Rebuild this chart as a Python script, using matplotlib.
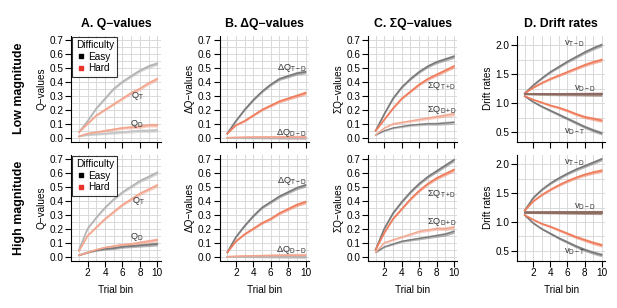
import numpy as np
import matplotlib
matplotlib.use("Agg")
import matplotlib.pyplot as plt
from matplotlib.lines import Line2D

plt.rcParams['font.family'] = ['Liberation Sans', 'DejaVu Sans']
plt.rcParams['mathtext.fontset'] = 'custom'
plt.rcParams['mathtext.rm'] = 'Liberation Sans'
plt.rcParams['mathtext.it'] = 'Liberation Sans:italic'

# trial bins
x = list(range(1, 11))

# ---- Low magnitude ----
qT_easy_low = [0.04, 0.12, 0.21, 0.28, 0.35, 0.40, 0.44, 0.48, 0.51, 0.53]
qT_hard_low = [0.04, 0.10, 0.16, 0.20, 0.24, 0.28, 0.32, 0.35, 0.39, 0.42]
qD_easy_low = [0.01, 0.02, 0.025, 0.03, 0.035, 0.04, 0.045, 0.05, 0.05, 0.055]
qD_hard_low = [0.01, 0.03, 0.04, 0.05, 0.06, 0.07, 0.075, 0.08, 0.09, 0.09]

dTD_easy_low = [0.03, 0.12, 0.20, 0.27, 0.33, 0.38, 0.42, 0.44, 0.46, 0.47]
dTD_hard_low = [0.03, 0.09, 0.12, 0.16, 0.20, 0.23, 0.26, 0.28, 0.30, 0.32]
dDD_easy_low = [0.0, 0.0, 0.0, 0.0, 0.0, 0.0, 0.0, 0.0, 0.0, 0.0]
dDD_hard_low = [0.0, 0.003, 0.004, 0.005, 0.005, 0.005, 0.005, 0.005, 0.005, 0.005]

sTD_easy_low = [0.05, 0.17, 0.28, 0.36, 0.42, 0.47, 0.51, 0.54, 0.56, 0.58]
sTD_hard_low = [0.05, 0.13, 0.21, 0.28, 0.33, 0.38, 0.42, 0.45, 0.48, 0.51]
sDD_easy_low = [0.02, 0.05, 0.07, 0.08, 0.09, 0.095, 0.10, 0.10, 0.105, 0.11]
sDD_hard_low = [0.02, 0.07, 0.10, 0.11, 0.12, 0.13, 0.14, 0.15, 0.16, 0.17]

vTD_easy_low = [1.17, 1.31, 1.43, 1.54, 1.63, 1.72, 1.80, 1.88, 1.95, 2.01]
vTD_hard_low = [1.17, 1.27, 1.35, 1.42, 1.48, 1.54, 1.60, 1.66, 1.71, 1.75]
vDD_easy_low = [1.15, 1.15, 1.15, 1.15, 1.15, 1.15, 1.15, 1.15, 1.15, 1.15]
vDD_hard_low = [1.16, 1.16, 1.16, 1.16, 1.16, 1.16, 1.16, 1.16, 1.16, 1.16]
vDT_easy_low = [1.12, 1.02, 0.94, 0.87, 0.80, 0.73, 0.66, 0.59, 0.53, 0.48]
vDT_hard_low = [1.12, 1.06, 1.01, 0.96, 0.92, 0.87, 0.81, 0.76, 0.73, 0.70]

# ---- High magnitude ----
qT_easy_high = [0.05, 0.20, 0.28, 0.35, 0.41, 0.46, 0.50, 0.54, 0.57, 0.60]
qT_hard_high = [0.04, 0.15, 0.21, 0.27, 0.32, 0.37, 0.41, 0.45, 0.48, 0.51]
qD_easy_high = [0.01, 0.03, 0.045, 0.055, 0.06, 0.07, 0.075, 0.08, 0.085, 0.09]
qD_hard_high = [0.01, 0.03, 0.05, 0.065, 0.075, 0.085, 0.09, 0.10, 0.11, 0.12]

dTD_easy_high = [0.03, 0.14, 0.22, 0.29, 0.35, 0.39, 0.43, 0.46, 0.49, 0.51]
dTD_hard_high = [0.03, 0.11, 0.16, 0.20, 0.24, 0.27, 0.31, 0.34, 0.37, 0.39]
dDD_easy_high = [0.0, 0.0, 0.0, 0.0, 0.0, 0.0, 0.0, 0.0, 0.0, 0.0]
dDD_hard_high = [0.0, 0.003, 0.005, 0.006, 0.007, 0.008, 0.009, 0.01, 0.01, 0.01]

sTD_easy_high = [0.05, 0.20, 0.31, 0.39, 0.46, 0.52, 0.57, 0.61, 0.65, 0.69]
sTD_hard_high = [0.05, 0.17, 0.27, 0.34, 0.41, 0.47, 0.52, 0.56, 0.59, 0.62]
sDD_easy_high = [0.03, 0.07, 0.09, 0.11, 0.12, 0.13, 0.14, 0.15, 0.16, 0.18]
sDD_hard_high = [0.03, 0.10, 0.12, 0.14, 0.16, 0.18, 0.19, 0.20, 0.20, 0.21]

vTD_easy_high = [1.20, 1.42, 1.56, 1.67, 1.76, 1.84, 1.91, 1.97, 2.03, 2.09]
vTD_hard_high = [1.20, 1.36, 1.47, 1.56, 1.64, 1.71, 1.77, 1.82, 1.86, 1.89]
vDD_easy_high = [1.16, 1.16, 1.16, 1.16, 1.16, 1.16, 1.16, 1.16, 1.16, 1.16]
vDD_hard_high = [1.17, 1.17, 1.17, 1.17, 1.17, 1.17, 1.17, 1.17, 1.17, 1.17]
vDT_easy_high = [1.12, 0.98, 0.88, 0.80, 0.72, 0.65, 0.58, 0.52, 0.47, 0.43]
vDT_hard_high = [1.12, 1.04, 0.97, 0.92, 0.86, 0.80, 0.74, 0.69, 0.64, 0.60]

# half-widths of the uncertainty bands
band_q = [0.003, 0.005, 0.007, 0.008, 0.009, 0.010, 0.011, 0.012, 0.013, 0.014]
band_v = [0.008, 0.013, 0.017, 0.020, 0.023, 0.025, 0.027, 0.029, 0.031, 0.033]

titles = ['A. Q\u2212values', 'B. \u0394Q\u2212values', 'C. \u03a3Q\u2212values', 'D. Drift rates']
ylabels = ['Q\u2212values', '\u0394Q\u2212values', '\u03a3Q\u2212values', 'Drift rates']
rows = ['Low magnitude', 'High magnitude']

GRAY = '#7a7a7a'
LGRAY = '#b4b4b4'
SALMON = '#f07c5c'
LSALMON = '#f3a58e'
BROWN = '#8c6a60'
FS = 7.2


def band(ax, y, hw, color, alpha=0.55, lw=1.2):
    y = np.array(y)
    hw = np.array(hw)
    ax.fill_between(x, y - hw, y + hw, color=color, alpha=alpha, lw=0, zorder=3)
    ax.plot(x, y, color=color, lw=lw, zorder=4)


def label(ax, xx, yy, s):
    ax.text(xx, yy, s, fontsize=6.7, color='#333333', ha='center', va='center', zorder=6)


fig = plt.figure(figsize=(6.17, 3.08), dpi=100)
lefts = [0.1156, 0.3559, 0.5964, 0.8383]
widths = [0.1447, 0.1447, 0.1447, 0.1421]
bottoms = [0.540, 0.154]
height = 0.344

for r in range(2):
    lo = r == 0
    for c in range(4):
        ax = fig.add_axes([lefts[c], bottoms[r], widths[c], height])
        ax.set_xlim(0.12, 10.38)
        ax.set_xticks([2, 4, 6, 8, 10])
        ax.set_xticks(x, minor=True)
        if c < 3:
            ax.set_ylim(-0.028, 0.728)
            ax.set_yticks(np.arange(0, 0.71, 0.1))
            ax.set_yticks(np.arange(0, 0.71, 0.05), minor=True)
            ax.yaxis.set_major_formatter(matplotlib.ticker.FormatStrFormatter('%.1f'))
        else:
            ax.set_ylim(0.332, 2.168)
            ax.set_yticks([0.5, 1.0, 1.5, 2.0])
            ax.set_yticks(np.arange(0.5, 2.01, 0.25), minor=True)
        ax.grid(True, which='both', color='#d9d9d9', lw=0.7, zorder=0)
        ax.tick_params(which='minor', length=0)
        ax.tick_params(which='major', length=4, width=0.8, labelsize=FS, pad=1.5, color='black')
        for s in ['top', 'right']:
            ax.spines[s].set_visible(False)
        for s in ['left', 'bottom']:
            ax.spines[s].set_linewidth(0.8)
        if lo:
            ax.tick_params(labelbottom=False)
            ax.set_title(titles[c], fontsize=8.8, fontweight='bold', pad=6)
        else:
            ax.set_xlabel('Trial bin', fontsize=FS, labelpad=5)
        ax.set_ylabel(ylabels[c], fontsize=FS, labelpad=2)

        if c == 0:
            if lo:
                band(ax, qT_easy_low, band_q, LGRAY)
                band(ax, qT_hard_low, band_q, LSALMON)
                band(ax, qD_easy_low, band_q, '#c4c4c4')
                band(ax, qD_hard_low, band_q, LSALMON)
                label(ax, 7.7, 0.30, r'$\mathrm{Q_T}$')
                label(ax, 7.7, 0.10, r'$\mathrm{Q_D}$')
            else:
                band(ax, qT_easy_high, band_q, LGRAY)
                band(ax, qT_hard_high, band_q, LSALMON)
                band(ax, qD_easy_high, band_q, GRAY)
                band(ax, qD_hard_high, band_q, LSALMON)
                label(ax, 7.8, 0.40, r'$\mathrm{Q_T}$')
                label(ax, 7.7, 0.14, r'$\mathrm{Q_D}$')
            handles = [Line2D([], [], marker='s', ls='', color='black', markersize=3.2),
                       Line2D([], [], marker='s', ls='', color='#e8332a', markersize=3.2)]
            leg = ax.legend(handles, ['Easy', 'Hard'], title='Difficulty', loc='upper left',
                            fontsize=FS, title_fontsize=FS, frameon=True, fancybox=False,
                            borderpad=0.35, handletextpad=0.2, handlelength=1.0,
                            labelspacing=0.15, borderaxespad=0.1)
            leg._legend_box.align = 'left'
            leg.get_frame().set_edgecolor('black')
            leg.get_frame().set_linewidth(0.8)
            leg.set_zorder(10)
        elif c == 1:
            if lo:
                band(ax, dTD_easy_low, band_q, GRAY)
                band(ax, dTD_hard_low, band_q, SALMON)
                band(ax, dDD_easy_low, band_q, LGRAY)
                band(ax, dDD_hard_low, band_q, LSALMON)
                yt, yd = 0.50, 0.035
            else:
                band(ax, dTD_easy_high, band_q, GRAY)
                band(ax, dTD_hard_high, band_q, SALMON)
                band(ax, dDD_easy_high, band_q, LGRAY)
                band(ax, dDD_hard_high, band_q, LSALMON)
                yt, yd = 0.54, 0.05
            label(ax, 8.4, yt, r'$\Delta\mathrm{Q_{T-D}}$')
            label(ax, 8.4, yd, r'$\Delta\mathrm{Q_{D-D}}$')
        elif c == 2:
            if lo:
                band(ax, sTD_easy_low, band_q, GRAY)
                band(ax, sTD_hard_low, band_q, SALMON)
                band(ax, sDD_easy_low, band_q, GRAY, 0.4, 0.9)
                band(ax, sDD_hard_low, band_q, LSALMON, 0.55, 0.9)
                yt, yd = 0.37, 0.20
            else:
                band(ax, sTD_easy_high, band_q, GRAY)
                band(ax, sTD_hard_high, band_q, SALMON)
                band(ax, sDD_easy_high, band_q, GRAY, 0.55, 0.9)
                band(ax, sDD_hard_high, band_q, LSALMON, 0.55, 0.9)
                yt, yd = 0.45, 0.25
            label(ax, 8.6, yt, r'$\Sigma\mathrm{Q_{T+D}}$')
            label(ax, 8.6, yd, r'$\Sigma\mathrm{Q_{D+D}}$')
        else:
            if lo:
                band(ax, vTD_easy_low, band_v, GRAY)
                band(ax, vTD_hard_low, band_v, SALMON)
                band(ax, vDD_easy_low, band_v, BROWN)
                band(ax, vDD_hard_low, band_v, BROWN)
                band(ax, vDT_easy_low, band_v, GRAY)
                band(ax, vDT_hard_low, band_v, SALMON)
                yt, yd, yb = 2.03, 1.25, 0.50
            else:
                band(ax, vTD_easy_high, band_v, GRAY)
                band(ax, vTD_hard_high, band_v, SALMON)
                band(ax, vDD_easy_high, band_v, BROWN)
                band(ax, vDD_hard_high, band_v, BROWN)
                band(ax, vDT_easy_high, band_v, GRAY)
                band(ax, vDT_hard_high, band_v, SALMON)
                yt, yd, yb = 2.03, 1.27, 0.48
            label(ax, 6.8, yt, r'$\mathrm{v_{T-D}}$')
            label(ax, 8.0, yd, r'$\mathrm{v_{D-D}}$')
            label(ax, 6.8, yb, r'$\mathrm{v_{D-T}}$')

    fig.text(0.03, bottoms[r] + height / 2, rows[r], rotation=90, fontsize=8.9,
             fontweight='bold', ha='center', va='center')

fig.savefig('out.png', dpi=100)
